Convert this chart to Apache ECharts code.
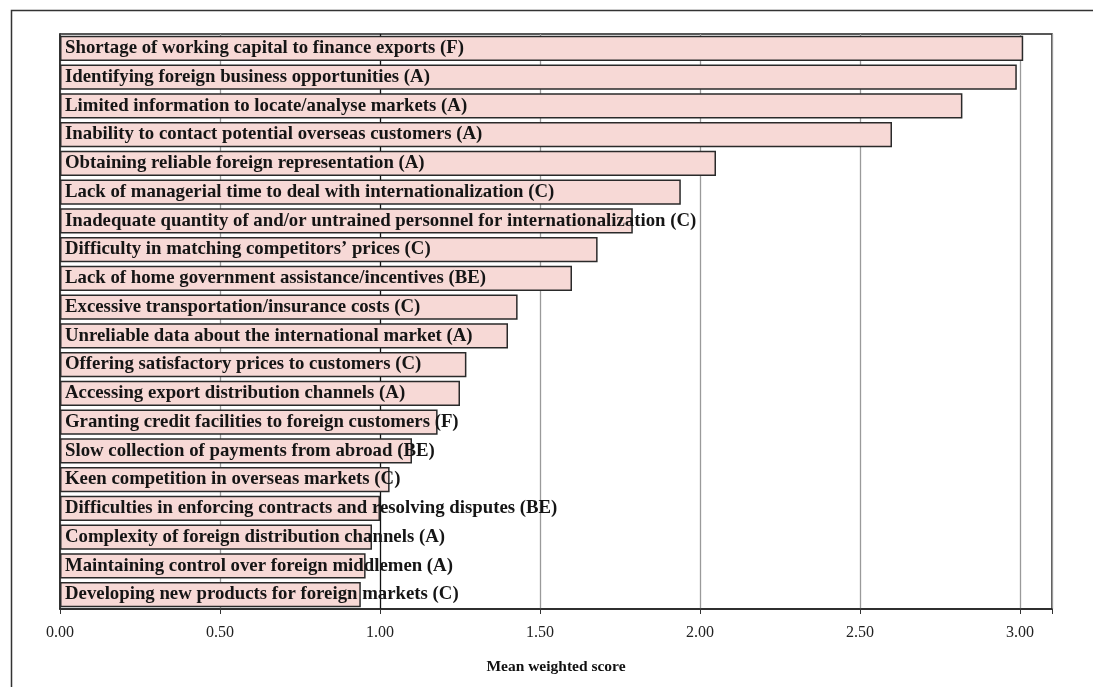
<!DOCTYPE html>
<html><head><meta charset="utf-8">
<script src="https://cdn.jsdelivr.net/npm/echarts@6/dist/echarts.min.js"></script>
<style>html,body{margin:0;padding:0;background:#fff}#c{width:1093px;height:687px}</style>
</head><body><div id="c"></div>
<script>
const categories = [
  "Shortage of working capital to finance exports (F)",
  "Identifying foreign business opportunities (A)",
  "Limited information to locate/analyse markets (A)",
  "Inability to contact potential overseas customers (A)",
  "Obtaining reliable foreign representation (A)",
  "Lack of managerial time to deal with internationalization (C)",
  "Inadequate quantity of and/or untrained personnel for internationalization (C)",
  "Difficulty in matching competitors\u2019 prices (C)",
  "Lack of home government assistance/incentives (BE)",
  "Excessive transportation/insurance costs (C)",
  "Unreliable data about the international market (A)",
  "Offering satisfactory prices to customers (C)",
  "Accessing export distribution channels (A)",
  "Granting credit facilities to foreign customers (F)",
  "Slow collection of payments from abroad (BE)",
  "Keen competition in overseas markets (C)",
  "Difficulties in enforcing contracts and resolving disputes (BE)",
  "Complexity of foreign distribution channels (A)",
  "Maintaining control over foreign middlemen (A)",
  "Developing new products for foreign markets (C)"
];
const scores = [3.01, 2.99, 2.82, 2.60, 2.05, 1.94, 1.79, 1.68, 1.60, 1.43, 1.40, 1.27, 1.25, 1.18, 1.10, 1.03, 1.00, 0.975, 0.955, 0.94];
const xTicks = [0, 0.5, 1, 1.5, 2, 2.5, 3];
const axisName = "Mean weighted score";

const chart = echarts.init(document.getElementById('c'));
chart.setOption({
  animation: false,
  backgroundColor: '#fff',
  graphic: [{
    type: 'rect', left: 9, top: 8, shape: {x: 0, y: 0, width: 1200, height: 800},
    style: {fill: 'none', stroke: '#333', lineWidth: 1.5}, silent: true, z: -10
  }],
  grid: {left: 60, right: 41, top: 34, bottom: 78, show: true, borderColor: '#222', borderWidth: 1.5, backgroundColor: 'transparent'},
  xAxis: {
    type: 'value', min: 0, max: 3.1, interval: 0.5,
    axisLine: {show: true, lineStyle: {color: '#222', width: 1.5}},
    axisTick: {show: true, length: 5, lineStyle: {color: '#333'}},
    splitLine: {show: true, lineStyle: {color: ['#9a9a9a', '#9a9a9a', '#111', '#9a9a9a', '#9a9a9a', '#9a9a9a', '#9a9a9a', '#9a9a9a'], width: 1.3}},
    axisLabel: {
      fontFamily: 'Liberation Serif', fontSize: 16, color: '#222', margin: 16,
      formatter: v => xTicks.includes(v) ? v.toFixed(2) : ''
    },
    name: axisName, nameLocation: 'middle', nameGap: 50,
    nameTextStyle: {fontFamily: 'Liberation Serif', fontWeight: 'bold', fontSize: 15.5, color: '#111'}
  },
  yAxis: {
    type: 'category', data: categories, inverse: true,
    axisLine: {show: true, lineStyle: {color: '#222', width: 1.5}},
    axisTick: {show: false}, axisLabel: {show: false}, splitLine: {show: false}
  },
  series: [{
    type: 'bar', data: scores, barCategoryGap: '13%',
    itemStyle: {color: '#f7d9d6', borderColor: '#2a2a2a', borderWidth: 1.5},
    label: {
      show: true, position: 'insideLeft', distance: 5,
      formatter: p => categories[p.dataIndex],
      fontFamily: 'Liberation Serif', fontWeight: 'bold', fontSize: 18.8, color: '#151515'
    }
  }]
});
</script></body></html>
